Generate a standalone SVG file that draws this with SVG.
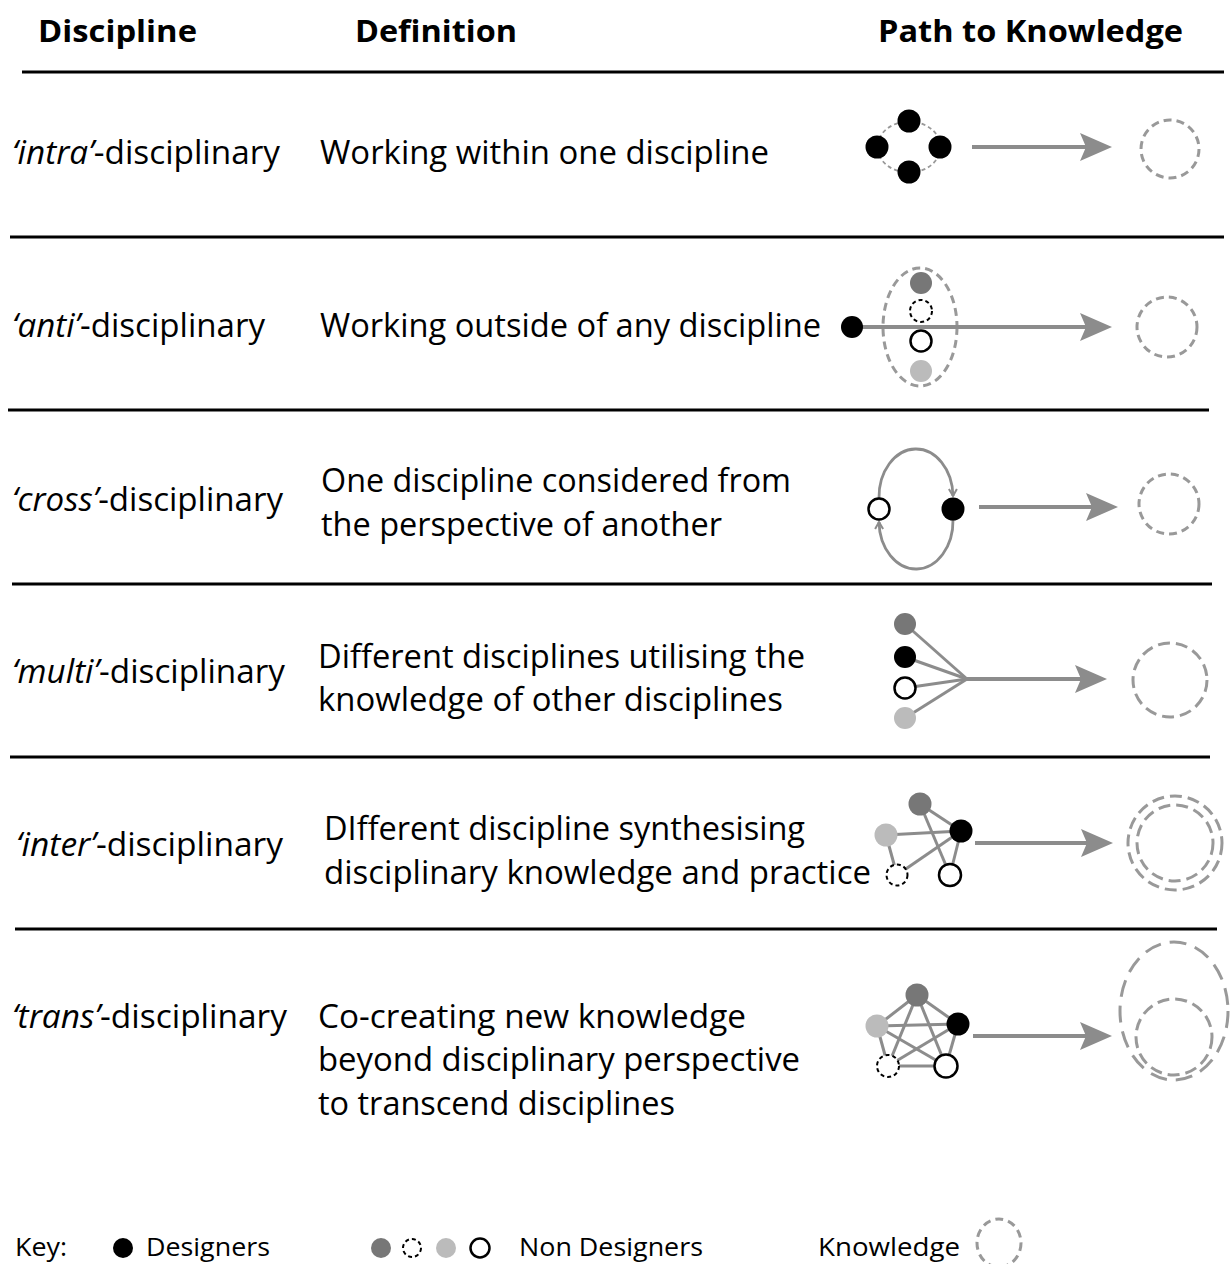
<svg xmlns="http://www.w3.org/2000/svg" width="1230" height="1264" viewBox="0 0 1230 1264">
<style>
.t{font-family:"Open Sans","Liberation Sans",sans-serif;font-size:33px;fill:#000}
.h{font-weight:700;font-size:31px}
.k{font-size:26px}
.i{font-style:italic}
.rule{stroke:#000;stroke-width:3}
.arrow{stroke:#8c8c8c;stroke-width:4;fill:none;marker-end:url(#ah)}
.edge{stroke:#8c8c8c;stroke-width:3;fill:none}
.loop{stroke:#8c8c8c;stroke-width:2.8;fill:none;marker-end:url(#ch)}
.ring{fill:none;stroke:#999;stroke-width:1.8;stroke-dasharray:4 3}
.know{fill:none;stroke:#999;stroke-width:3;stroke-dasharray:8 5}
.know2{fill:none;stroke:#999;stroke-width:3;stroke-dasharray:12 6}
.know3{fill:none;stroke:#999;stroke-width:3;stroke-dasharray:17 9}
.d{fill:#000}
.dg{fill:#777}
.lg{fill:#bbb}
.w{fill:#fff;stroke:#000;stroke-width:2.5}
.ds{fill:#fff;stroke:#000;stroke-width:2;stroke-dasharray:4 3}
</style>
<defs>
<marker id="ah" markerUnits="userSpaceOnUse" viewBox="0 0 32 28" markerWidth="32" markerHeight="28" refX="6" refY="14" orient="auto">
<path d="M0,0 L32,14 L0,28 L6,14 z" fill="#8c8c8c"/>
</marker>
<marker id="ch" markerUnits="userSpaceOnUse" viewBox="0 0 10 10" markerWidth="10" markerHeight="10" refX="8" refY="5" orient="auto">
<path d="M1,1 L8,5 L1,9" fill="none" stroke="#8c8c8c" stroke-width="2"/>
</marker>
</defs>

<g id="header">
<text class="t h" x="38" y="42" textLength="159" lengthAdjust="spacingAndGlyphs">Discipline</text>
<text class="t h" x="355" y="42" textLength="162" lengthAdjust="spacingAndGlyphs">Definition</text>
<text class="t h" x="878" y="42" textLength="305" lengthAdjust="spacingAndGlyphs">Path to Knowledge</text>
</g>

<g id="rules">
<line class="rule" x1="22" y1="72" x2="1224" y2="72" stroke-width="4"/>
<line class="rule" x1="10" y1="237" x2="1224" y2="237"/>
<line class="rule" x1="8" y1="410" x2="1209" y2="410"/>
<line class="rule" x1="12" y1="584" x2="1212" y2="584"/>
<line class="rule" x1="10" y1="757" x2="1210" y2="757"/>
<line class="rule" x1="15" y1="929" x2="1217" y2="929"/>
</g>

<g id="row-intra">
<text class="t" x="12" y="164" textLength="268" lengthAdjust="spacingAndGlyphs"><tspan class="i">‘intra’</tspan>-disciplinary</text>
<text class="t" x="320" y="164" textLength="449" lengthAdjust="spacingAndGlyphs">Working within one discipline</text>
</g>
<g id="row-anti">
<text class="t" x="12" y="337" textLength="253" lengthAdjust="spacingAndGlyphs"><tspan class="i">‘anti’</tspan>-disciplinary</text>
<text class="t" x="320" y="337" textLength="501" lengthAdjust="spacingAndGlyphs">Working outside of any discipline</text>
</g>
<g id="row-cross">
<text class="t" x="12" y="511" textLength="271" lengthAdjust="spacingAndGlyphs"><tspan class="i">‘cross’</tspan>-disciplinary</text>
<text class="t" x="321" y="492" textLength="470" lengthAdjust="spacingAndGlyphs">One discipline considered from</text>
<text class="t" x="321" y="536" textLength="401" lengthAdjust="spacingAndGlyphs">the perspective of another</text>
</g>
<g id="row-multi">
<text class="t" x="12" y="683" textLength="273" lengthAdjust="spacingAndGlyphs"><tspan class="i">‘multi’</tspan>-disciplinary</text>
<text class="t" x="318" y="668" textLength="487" lengthAdjust="spacingAndGlyphs">Different disciplines utilising the</text>
<text class="t" x="318" y="711" textLength="465" lengthAdjust="spacingAndGlyphs">knowledge of other disciplines</text>
</g>
<g id="row-inter">
<text class="t" x="16" y="856" textLength="267" lengthAdjust="spacingAndGlyphs"><tspan class="i">‘inter’</tspan>-disciplinary</text>
<text class="t" x="324" y="840" textLength="481" lengthAdjust="spacingAndGlyphs">DIfferent discipline synthesising</text>
<text class="t" x="324" y="884" textLength="547" lengthAdjust="spacingAndGlyphs">disciplinary knowledge and practice</text>
</g>
<g id="row-trans">
<text class="t" x="12" y="1028" textLength="275" lengthAdjust="spacingAndGlyphs"><tspan class="i">‘trans’</tspan>-disciplinary</text>
<text class="t" x="318" y="1028" textLength="428" lengthAdjust="spacingAndGlyphs">Co-creating new knowledge</text>
<text class="t" x="318" y="1071" textLength="482" lengthAdjust="spacingAndGlyphs">beyond disciplinary perspective</text>
<text class="t" x="318" y="1115" textLength="357" lengthAdjust="spacingAndGlyphs">to transcend disciplines</text>
</g>

<g id="connectors">
<!-- row 1 -->
<ellipse class="ring" cx="909" cy="147" rx="31.5" ry="25.5"/>
<line class="arrow" x1="972" y1="147" x2="1086" y2="147"/>
<!-- row 2 -->
<ellipse class="know" cx="920" cy="327" rx="37" ry="59"/>
<line class="arrow" x1="852" y1="327" x2="1086" y2="327"/>
<!-- row 3 -->
<path class="loop" d="M879,498 A37,48 0 0 1 953,496"/>
<path class="loop" d="M953,520 A37,48 0 0 1 879,522"/>
<line class="arrow" x1="979" y1="507" x2="1092" y2="507"/>
<!-- row 4 -->
<line class="edge" x1="905" y1="624" x2="967" y2="679"/>
<line class="edge" x1="905" y1="657" x2="967" y2="679"/>
<line class="edge" x1="905" y1="688" x2="967" y2="679"/>
<line class="edge" x1="905" y1="718" x2="967" y2="679"/>
<line class="arrow" x1="966" y1="679" x2="1081" y2="679"/>
<!-- row 5 -->
<line class="edge" x1="920" y1="804" x2="961" y2="831"/>
<line class="edge" x1="920" y1="804" x2="950" y2="875"/>
<line class="edge" x1="886" y1="835" x2="961" y2="831"/>
<line class="edge" x1="886" y1="835" x2="897" y2="875"/>
<line class="edge" x1="897" y1="875" x2="961" y2="831"/>
<line class="edge" x1="961" y1="831" x2="950" y2="875"/>
<line class="arrow" x1="975" y1="843" x2="1087" y2="843"/>
<!-- row 6 -->
<line class="edge" x1="917" y1="995" x2="877" y2="1026"/>
<line class="edge" x1="917" y1="995" x2="958" y2="1024"/>
<line class="edge" x1="917" y1="995" x2="888" y2="1066"/>
<line class="edge" x1="917" y1="995" x2="946" y2="1066"/>
<line class="edge" x1="877" y1="1026" x2="958" y2="1024"/>
<line class="edge" x1="877" y1="1026" x2="888" y2="1066"/>
<line class="edge" x1="877" y1="1026" x2="946" y2="1066"/>
<line class="edge" x1="958" y1="1024" x2="888" y2="1066"/>
<line class="edge" x1="958" y1="1024" x2="946" y2="1066"/>
<line class="edge" x1="888" y1="1066" x2="946" y2="1066"/>
<line class="arrow" x1="973" y1="1036" x2="1086" y2="1036"/>
</g>

<g id="fig-intra">
<circle class="d" cx="909" cy="121" r="11.5"/>
<circle class="d" cx="877" cy="147" r="11.5"/>
<circle class="d" cx="940" cy="147" r="11.5"/>
<circle class="d" cx="909" cy="172" r="11.5"/>
<circle class="know" cx="1170" cy="149" r="29"/>
</g>
<g id="fig-anti">
<circle class="d" cx="852" cy="327" r="11"/>
<circle class="dg" cx="921" cy="283" r="11"/>
<circle class="ds" cx="921" cy="311" r="11"/>
<circle class="w" cx="921" cy="341" r="10.5"/>
<circle class="lg" cx="921" cy="371" r="11"/>
<circle class="know" cx="1167" cy="327" r="30"/>
</g>
<g id="fig-cross">
<circle class="w" cx="879" cy="509" r="10.5"/>
<circle class="d" cx="953" cy="509" r="11.5"/>
<circle class="know" cx="1169" cy="504" r="30"/>
</g>
<g id="fig-multi">
<circle class="dg" cx="905" cy="624" r="11"/>
<circle class="d" cx="905" cy="657" r="11"/>
<circle class="w" cx="905" cy="688" r="10.5"/>
<circle class="lg" cx="905" cy="718" r="11"/>
<circle class="know2" cx="1170" cy="680" r="37"/>
</g>
<g id="fig-inter">
<circle class="dg" cx="920" cy="804" r="11.5"/>
<circle class="lg" cx="886" cy="835" r="11.5"/>
<circle class="d" cx="961" cy="831" r="11.5"/>
<circle class="ds" cx="897" cy="875" r="10.5"/>
<circle class="w" cx="950" cy="875" r="11"/>
<circle class="know2" cx="1175" cy="843" r="47"/>
<circle class="know2" cx="1175" cy="843" r="38"/>
</g>
<g id="fig-trans">
<circle class="dg" cx="917" cy="995" r="11.5"/>
<circle class="lg" cx="877" cy="1026" r="11.5"/>
<circle class="d" cx="958" cy="1024" r="11.5"/>
<circle class="ds" cx="888" cy="1066" r="11"/>
<circle class="w" cx="946" cy="1066" r="11.5"/>
<ellipse class="know3" cx="1174" cy="1011" rx="54" ry="69"/>
<circle class="know2" cx="1174" cy="1037" r="38"/>
</g>

<g id="key">
<text class="t k" x="15" y="1256" textLength="52" lengthAdjust="spacingAndGlyphs">Key:</text>
<circle class="d" cx="123" cy="1248" r="10"/>
<text class="t k" x="146" y="1256" textLength="124" lengthAdjust="spacingAndGlyphs">Designers</text>
<circle class="dg" cx="381" cy="1248" r="10"/>
<circle class="ds" cx="412" cy="1248" r="9"/>
<circle class="lg" cx="446" cy="1248" r="10"/>
<circle class="w" cx="480" cy="1248" r="9.5"/>
<text class="t k" x="519" y="1256" textLength="184" lengthAdjust="spacingAndGlyphs">Non Designers</text>
<text class="t k" x="818" y="1256" textLength="142" lengthAdjust="spacingAndGlyphs">Knowledge</text>
<ellipse class="know" cx="999" cy="1243" rx="22" ry="24" stroke-width="2" stroke-dasharray="6 4"/>
</g>
</svg>
